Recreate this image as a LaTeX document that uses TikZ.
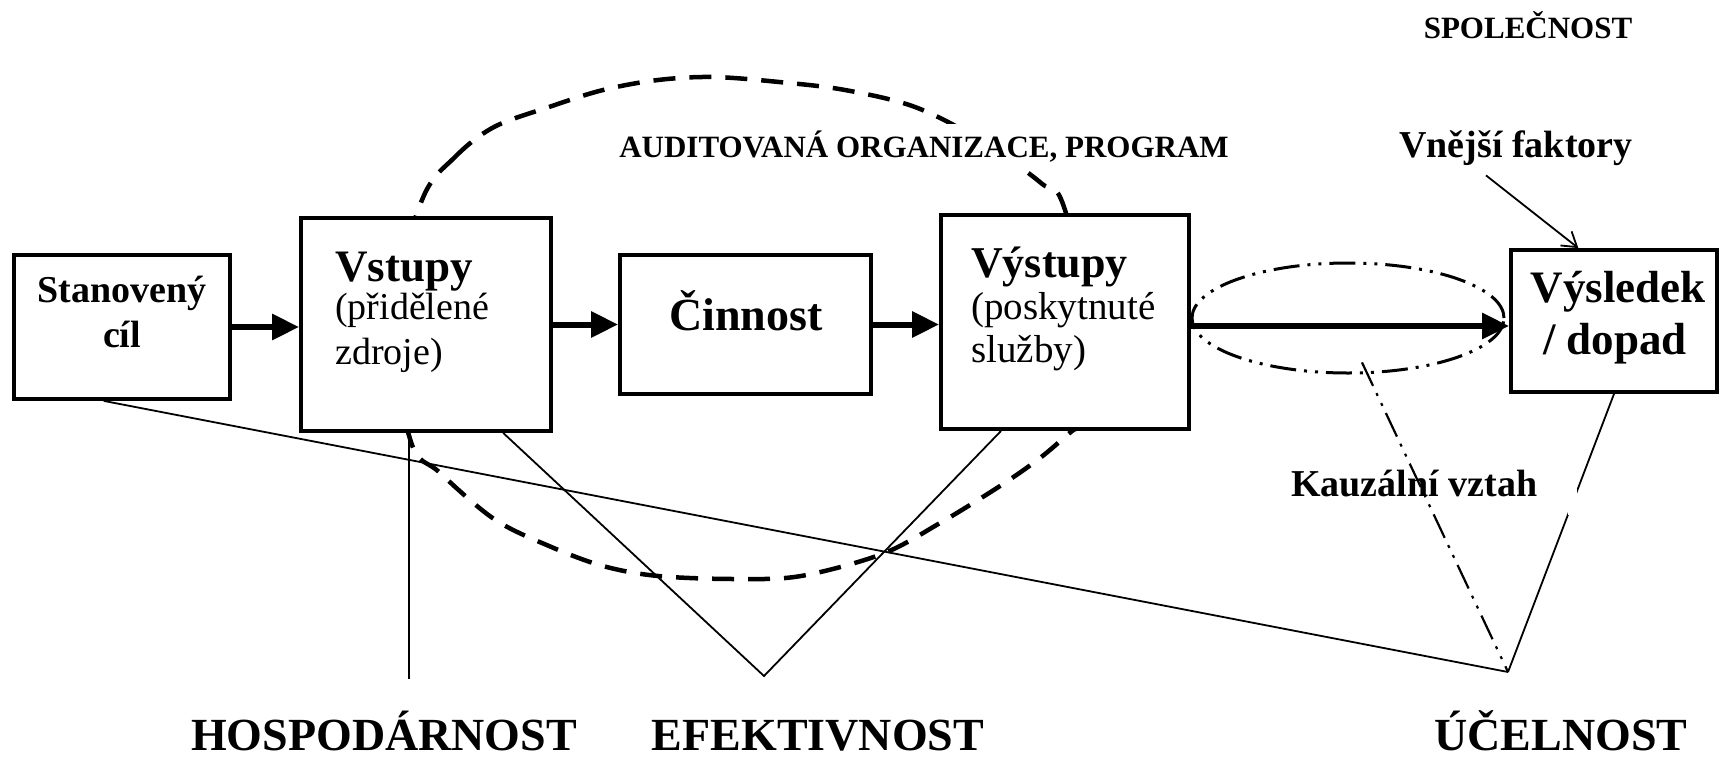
\documentclass[tikz,border=0pt]{standalone}
\usepackage{fontspec}
\setmainfont{Liberation Serif}
\usetikzlibrary{arrows.meta,calc,shapes.geometric}
\newcommand{\myfs}[1]{\fontsize{#1}{#1}\selectfont}
\begin{document}
\begin{tikzpicture}[x=1pt,y=-1pt,
  box/.style={draw,line width=3.8pt,fill=white,inner sep=0pt},
  flow/.style={line width=6pt,-{Triangle[length=27pt,width=25pt]}},
  thinline/.style={line width=1.8pt},
  orgline/.style={line width=4.5pt,dash pattern=on 22pt off 14pt},
  ddot/.style={line width=3pt,dash pattern=on 26pt off 8pt on 3pt off 8pt on 3pt off 8pt},
  lbl/.style={inner sep=0pt,anchor=base},
  lbll/.style={inner sep=0pt,anchor=base west},
  bt/.style={font=\bfseries\myfs{#1}},
  rt/.style={font=\myfs{#1}}
]
\useasboundingbox (0,0) rectangle (1721,758);

% organisation boundary (dashed)
\draw[orgline] plot[smooth cycle,tension=0.55] coordinates {
  (422,200) (455,157) (494,127) (549,107) (603,90) (658,80) (713,77)
  (779,82) (845,90) (915,107) (980,140) (1041,183) (1066,213)
  (1110,400)
  (1072,431) (1040,458) (1000,486) (940,523) (882,554) (801,576) (735,579)
  (658,576) (603,566) (549,546) (494,519) (439,472) (411,442)
  (390,320)};

% boxes
\node[box,minimum width=216pt,minimum height=144pt] (stan) at (122,327) {};
\node[box,minimum width=250pt,minimum height=213pt] (vstupy) at (426,324.5) {};
\node[box,minimum width=251pt,minimum height=139pt] (cinnost) at (745.5,324.5) {};
\node[box,minimum width=248pt,minimum height=214pt] (vystupy) at (1065,322) {};
\node[box,minimum width=206pt,minimum height=142pt] (vysl) at (1614,321) {};

% box texts
\node[lbl,bt=38] (stan1) at (122,302) {Stanovený};
\node[lbl,bt=38] (stan2) at (122,347) {cíl};
\node[lbll,bt=45] (vst1) at (335,281) {Vstupy};
\node[lbll,rt=38] (vst2) at (335,319) {(přidělené};
\node[lbll,rt=38] (vst3) at (335,364) {zdroje)};
\node[lbl,bt=46] (cin1) at (746,330) {Činnost};
\node[lbll,bt=44] (vys1) at (971,277) {Výstupy};
\node[lbll,rt=39] (vys2) at (971,319) {(poskytnuté};
\node[lbll,rt=39] (vys3) at (971,362) {služby)};
\node[lbl,bt=45] (vsl1) at (1618,302) {Výsledek};
\node[lbl,bt=45] (vsl2) at (1615,354) {/ dopad};

% dash-dot ellipse around the outcome arrow
\node[ellipse,draw,ddot,minimum width=312pt,minimum height=110pt,inner sep=0pt] (ell) at (1348,318) {};

% flow arrows
\draw[flow] (stan.east) -- (stan.east -| vstupy.west);
\draw[flow] (vstupy.east) -- (vstupy.east -| cinnost.west);
\draw[flow] (cinnost.east) -- (cinnost.east -| vystupy.west);
\draw[flow] ([yshift=-4pt]vystupy.east) -- ([yshift=-4pt]vystupy.east -| vysl.west);

% upper labels
\node[lbl,bt=31,fill=white,inner sep=6pt] (org) at (924,157) {AUDITOVANÁ ORGANIZACE, PROGRAM};
\node[lbl,bt=31] (spol) at (1528,38) {SPOLEČNOST};
\node[lbl,bt=38] (vnej) at (1516,157) {Vnější faktory};
\draw[thinline,-{Straight Barb[length=14pt,width=18pt]}] ([xshift=-30pt,yshift=-10pt]vnej.south) -- ($(vysl.north west)!0.33!(vysl.north east)$);

% bottom criteria
\coordinate (hv) at (409,679);
\coordinate (ev) at (764,676);
\coordinate (uv) at (1508,672);
\node[lbl,bt=46,text depth=0pt] (hosp) at (384,750) {HOSPODÁRNOST};
\node[lbl,bt=46,text depth=0pt] (efek) at (818,750) {EFEKTIVNOST};
\node[lbl,bt=46,text depth=0pt] (ucel) at (1561,750) {ÚČELNOST};

\draw[thinline] (vstupy.south -| hv) -- (hv);
\draw[thinline] ($(vstupy.south west)!0.804!(vstupy.south east)$) -- (ev)
   -- ($(vystupy.south west)!0.246!(vystupy.south east)$);
\draw[thinline] ($(stan.south west)!0.417!(stan.south east)$) -- (uv);
\draw[ddot,line width=2.2pt] (ell.-80) ++(4pt,12pt) coordinate (kz) -- (uv);
\draw[thinline] (vysl.south) -- node[pos=0.39,fill=white,minimum width=9pt,minimum height=26pt,inner sep=0pt] (gap) {} (uv);
\node[lbll,bt=38] (kauz) at (1291,496) {Kauzální vztah};
\end{tikzpicture}
\end{document}
